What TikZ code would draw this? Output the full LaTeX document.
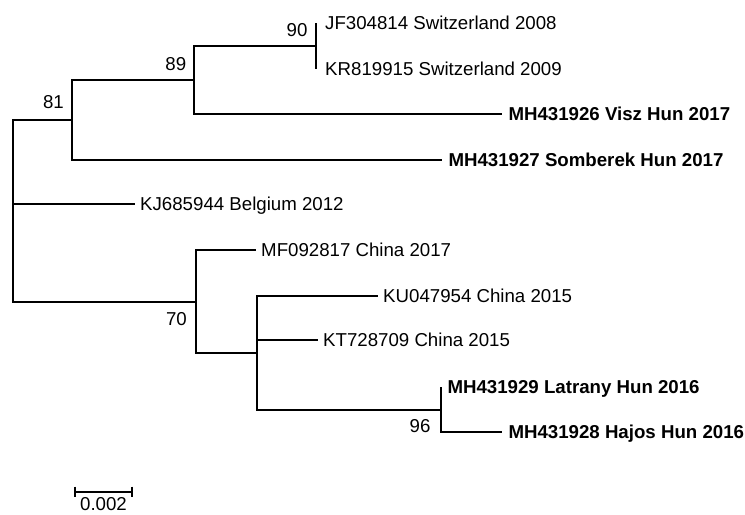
\documentclass[tikz,border=0pt]{standalone}
\usepackage{fontspec}
\setmainfont{Liberation Sans}
\usetikzlibrary{positioning}

\begin{document}
\begin{tikzpicture}[x=0.75pt,y=-0.75pt,line width=1.8pt,
  leaf/.style={inner sep=0pt,text height=10pt,text depth=0pt,font=\fontsize{14}{16}\selectfont},
  hun/.style={leaf,font=\fontsize{14}{16}\selectfont\bfseries},
  boot/.style={inner sep=0pt,font=\fontsize{14}{16}\selectfont}]

  \useasboundingbox (0,0) rectangle (745,514);

  % internal nodes
  \coordinate (R)   at (13,211);
  \coordinate (N81) at (72,120);
  \coordinate (N89) at (194,80);
  \coordinate (N90) at (316,46);
  \coordinate (N70) at (196,302);
  \coordinate (NC)  at (257,353);
  \coordinate (N96) at (441,410);
  % branch ends
  \coordinate (JF) at (316,23);
  \coordinate (KR) at (316,69);
  \coordinate (VI) at (502,114);
  \coordinate (SO) at (442,160);
  \coordinate (KJ) at (135,204);
  \coordinate (MF) at (256,250);
  \coordinate (KU) at (378,296);
  \coordinate (KT) at (318,340);
  \coordinate (LA) at (441,387);
  \coordinate (HA) at (502,432);
  % scale bar
  \coordinate (S1) at (75,492);
  \coordinate (S2) at (132,492);
  \coordinate (SM) at (103.5,492);

  \node (jf) [leaf, right=6pt of JF] {JF304814 Switzerland 2008};
  \node (kr) [leaf, right=6pt of KR] {KR819915 Switzerland 2009};
  \node (vi) [hun, right=4pt of VI] {MH431926 Visz Hun 2017};
  \node (so) [hun, right=4pt of SO] {MH431927 Somberek Hun 2017};
  \node (kj) [leaf, right=3pt of KJ] {KJ685944 Belgium 2012};
  \node (mf) [leaf, right=3pt of MF] {MF092817 China 2017};
  \node (ku) [leaf, right=3pt of KU] {KU047954 China 2015};
  \node (kt) [leaf, right=3pt of KT] {KT728709 China 2015};
  \node (la) [hun, right=4pt of LA] {MH431929 Latrany Hun 2016};
  \node (ha) [hun, right=4pt of HA] {MH431928 Hajos Hun 2016};

  \node (b90) [boot, above left=6.2pt and 5.5pt of N90] {90};
  \node (b89) [boot, above left=6.2pt and 5pt of N89] {89};
  \node (b81) [boot, above left=7.3pt and 5.2pt of N81] {81};
  \node (b70) [boot, below left=7.3pt and 6pt of N70] {70};
  \node (b96) [boot, below left=6.2pt and 7pt of N96] {96};

  \draw (R) |- (N81);
  \draw (R) |- (KJ);
  \draw (R) |- (N70);
  \draw (N81) |- (N89);
  \draw (N81) |- (SO);
  \draw (N89) |- (N90);
  \draw (N89) |- (VI);
  \draw (N90) |- (JF);
  \draw (N90) |- (KR);
  \draw (N70) |- (MF);
  \draw (N70) |- (NC);
  \draw (NC) |- (KU);
  \draw (NC) |- (KT);
  \draw (NC) |- (N96);
  \draw (N96) |- (LA);
  \draw (N96) |- (HA);

  \draw (S1) -- (S2);
  \draw ([yshift=4pt]S1) -- ([yshift=-4pt]S1);
  \draw ([yshift=4pt]S2) -- ([yshift=-4pt]S2);
  \node (sl) [boot, below=3pt of SM] {0.002};

\end{tikzpicture}
\end{document}
